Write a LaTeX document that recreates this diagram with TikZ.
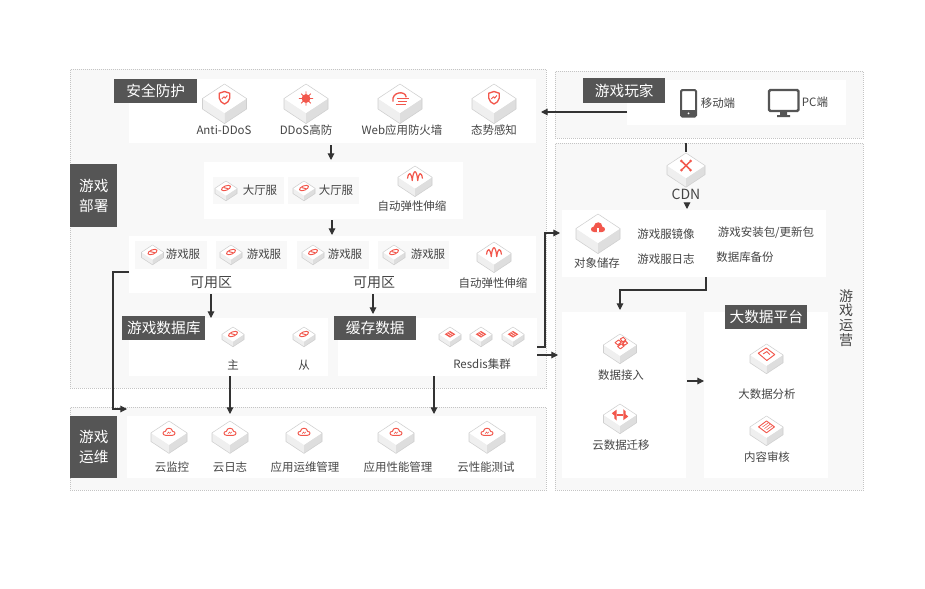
\documentclass[tikz,border=0pt]{standalone}
\usepackage{fontspec}
\setmainfont{Noto Sans CJK SC}
\usetikzlibrary{arrows.meta}

\definecolor{zonebg}{HTML}{F8F8F8}
\definecolor{zoneline}{HTML}{C4C4C4}
\definecolor{tagbg}{HTML}{555555}
\definecolor{txtc}{HTML}{454545}
\definecolor{flowc}{HTML}{333333}
\definecolor{redc}{HTML}{F2574C}
\definecolor{cubeL}{HTML}{EFEFEF}
\definecolor{cubeR}{HTML}{DEDEDE}
\definecolor{cubeE}{HTML}{CFCFCF}

% cube: x, top y, half width, glyph
\newcommand{\cube}[4]{%
  \begin{scope}[shift={(#1,#2+0.66*#3)},scale=#3]
    \fill[fill=cubeL] (-1,0) -- (0,.66) -- (0,1.14) -- (-1,.48) -- cycle;
    \fill[fill=cubeR] (1,0) -- (0,.66) -- (0,1.14) -- (1,.48) -- cycle;
    \fill[fill=white] (0,-.66) -- (1,0) -- (0,.66) -- (-1,0) -- cycle;
    \draw[draw=cubeE,line width=.4pt,line join=round] (0,-.66) -- (1,0) -- (1,.48) -- (0,1.14) -- (-1,.48) -- (-1,0) -- cycle;
    #4
  \end{scope}}

% glyphs on the top face
\newcommand{\gshield}{\draw[glyph,line width=1pt] (-.24,-.24) -- (0,-.32) -- (.24,-.24) -- (.24,-.02) .. controls (.24,.12) and (.1,.2) .. (0,.25) .. controls (-.1,.2) and (-.24,.12) .. (-.24,-.02) -- cycle; \draw[glyph] (-.12,.02) -- (-.02,-.08) -- (.03,-.02) -- (.13,-.14);}
\newcommand{\gsun}{\fill[redc] (0,0) circle (.2); \draw[glyph] (-.32,0) -- (.32,0) (0,-.32) -- (0,.32) (-.22,-.22) -- (.22,.22) (-.22,.22) -- (.22,-.22);}
\newcommand{\gweb}{\draw[glyph,line width=1pt] (-.32,.14) .. controls (-.4,-.32) and (.26,-.38) .. (.28,-.06); \draw[glyph] (-.14,.02) -- (.4,.02) (-.08,.14) -- (.32,.14) (-.16,.26) -- (.26,.26);}
\newcommand{\gauto}{\draw[glyph,line width=.9pt] (-.44,.08) .. controls (-.38,-.36) and (-.22,-.3) .. (-.16,.2) .. controls (-.1,-.5) and (.1,-.5) .. (.16,.2) .. controls (.22,-.3) and (.38,-.36) .. (.44,.08);}
\newcommand{\glink}{\draw[glyph] (0,-.02) ellipse [x radius=.44,y radius=.2,rotate=22]; \draw[glyph] (-.2,-.06) -- (.2,.04);}
\newcommand{\gcloud}{\draw[glyph] (-.18,.14) .. controls (-.38,.14) and (-.38,-.1) .. (-.2,-.08) .. controls (-.18,-.32) and (.18,-.32) .. (.2,-.08) .. controls (.38,-.1) and (.38,.14) .. (.18,.14) -- cycle; \draw[glyph,line width=.4pt] (-.1,.05) -- (-.03,-.05) -- (.03,.03) -- (.1,-.06);}
\newcommand{\gcloudfill}{\fill[redc] (-.18,.16) .. controls (-.36,.16) and (-.36,-.08) .. (-.2,-.08) .. controls (-.16,-.36) and (.2,-.34) .. (.2,-.08) .. controls (.36,-.08) and (.36,.16) .. (.18,.16) -- cycle; \fill[white] (-.04,.16) rectangle (.05,-.02);}
\newcommand{\gcross}{\draw[redc,line width=1.1pt] (-.2,-.2) -- (.2,.2) (-.2,.2) -- (.2,-.2); \fill[redc] (-.24,-.24) circle (.08) (.24,.24) circle (.08) (-.24,.24) circle (.08) (.24,-.24) circle (.08);}
\newcommand{\gserver}{\fill[redc] (0,-.3) -- (.48,0) -- (0,.3) -- (-.48,0) -- cycle; \draw[white,line width=.4pt] (-.24,-.05) -- (.12,.18) (-.12,-.18) -- (.24,.05);}
\newcommand{\gdata}{\draw[glyph] (-.3,-.14) -- (-.08,-.3) -- (.08,-.16) -- (-.14,0) -- cycle (.02,-.36) -- (.2,-.46) -- (.36,-.3) -- (.16,-.18) -- cycle (-.14,.1) -- (.08,-.06) -- (.24,.08) -- (.02,.24) -- cycle (.16,-.1) -- (.34,-.22) -- (.46,-.1) -- (.28,.02) -- cycle;}
\newcommand{\gmove}{\fill[redc] (-.5,-.1) -- (-.2,-.32) -- (-.2,.34) -- (-.34,.22) -- (-.34,.04) -- cycle; \fill[redc] (.5,.1) -- (.2,.32) -- (.2,-.34) -- (.34,-.22) -- (.34,-.04) -- cycle; \draw[redc,line width=1.1pt] (-.2,.02) -- (.2,.02);}
\newcommand{\gchart}{\draw[glyph] (-.5,-.1) -- (-.02,-.42) -- (.5,-.02) -- (.02,.34) -- cycle; \draw[glyph] (-.2,-.06) -- (.02,-.2) -- (.2,-.02);}
\newcommand{\gaudit}{\draw[glyph] (-.48,0) -- (0,-.36) -- (.48,0) -- (0,.36) -- cycle; \draw[glyph,line width=.4pt] (-.24,0) -- (.1,-.24) (-.12,.1) -- (.22,-.16) (0,.18) -- (.34,-.06);}

\begin{document}
\begin{tikzpicture}[x=0.75pt,y=-0.75pt,
    zone/.style={draw=zoneline,densely dotted,line width=.5pt,fill=zonebg,inner sep=0pt},
    panel/.style={fill=white,inner sep=0pt},
    srvbox/.style={fill=zonebg,inner sep=0pt},
    tag/.style={fill=tagbg,text=white,inner sep=0pt,align=center,font=\fontsize{11}{15}\selectfont},
    size/.style 2 args={minimum width=#1*0.75pt,minimum height=#2*0.75pt},
    lbl/.style={text=txtc,inner sep=0pt,font=\fontsize{8.6}{11}\selectfont},
    lblbig/.style={text=txtc,inner sep=0pt,font=\fontsize{10.5}{13}\selectfont},
    glyph/.style={draw=redc,line width=.7pt,line join=round},
    flow/.style={draw=flowc,line width=.8pt,-{Triangle[length=5pt,width=5pt]}},
    plain/.style={draw=flowc,line width=.8pt}]

    \useasboundingbox (0,0) rectangle (925,589);
    \fill[white] (0,0) rectangle (925,589);

    % zones
    \node[zone,size={476}{319},anchor=north west] (deploy) at (70,69) {};
    \node[zone,size={476}{83},anchor=north west] (opszone) at (70,407) {};
    \node[zone,size={308}{67},anchor=north west] (players) at (555,71) {};
    \node[zone,size={308}{347},anchor=north west] (operate) at (555,143) {};

    % panels
    \node[panel,size={407}{64},anchor=north west] (secpanel) at (129,79) {};
    \node[panel,size={259}{57},anchor=north west] (lobbypanel) at (204,162) {};
    \node[panel,size={407}{57},anchor=north west] (gamepanel) at (129,236) {};
    \node[panel,size={199}{58},anchor=north west] (dbpanel) at (129,318) {};
    \node[panel,size={199}{58},anchor=north west] (cachepanel) at (338,318) {};
    \node[panel,size={409}{62},anchor=north west] (opspanel) at (127,416) {};
    \node[panel,size={219}{45},anchor=north west] (playerpanel) at (627,80) {};
    \node[panel,size={264}{67},anchor=north west] (storepanel) at (562,210) {};
    \node[panel,size={124}{166},anchor=north west] (datapanel) at (562,312) {};
    \node[panel,size={124}{166},anchor=north west] (bigpanel) at (704,312) {};

    \node[srvbox,size={71}{27},anchor=north west] (lobbybox1) at (213,177) {};
    \node[srvbox,size={71}{27},anchor=north west] (lobbybox2) at (288,177) {};
    \node[srvbox,size={72}{28},anchor=north west] (gamebox1) at (135,241) {};
    \node[srvbox,size={71}{28},anchor=north west] (gamebox2) at (216,241) {};
    \node[srvbox,size={72}{28},anchor=north west] (gamebox3) at (297,241) {};
    \node[srvbox,size={71}{28},anchor=north west] (gamebox4) at (378,241) {};

    % tags
    \node[tag,size={83}{24},anchor=north west] (sectag) at (114,79) {安全防护};
    \node[tag,size={47}{63},anchor=north west] (deploytag) at (70,164) {游戏\\部署};
    \node[tag,size={47}{62},anchor=north west] (opstag) at (70,416) {游戏\\运维};
    \node[tag,size={83}{24},anchor=north west] (dbtag) at (122,316) {游戏数据库};
    \node[tag,size={82}{24},anchor=north west] (cachetag) at (334,316) {缓存数据};
    \node[tag,size={82}{25},anchor=north west] (playertag) at (583,78) {游戏玩家};
    \node[tag,size={82}{24},anchor=north west] (bigtag) at (725,305) {大数据平台};

    % security
    \cube{224.5}{84}{22}{\gshield}
    \cube{306}{84}{22}{\gsun}
    \cube{400}{84}{22}{\gweb}
    \cube{494}{84}{22}{\gshield}
    \node[lbl] (antiddos) at (224,130) {Anti-DDoS};
    \node[lbl] (ddos) at (306,130) {DDoS高防};
    \node[lbl] (webfw) at (402,130) {Web应用防火墙};
    \node[lbl] (aware) at (494,130) {态势感知};

    % lobby
    \cube{226}{181}{11}{\glink}
    \cube{304}{181}{11}{\glink}
    \cube{415}{166}{17}{\gauto}
    \node[lbl] (lobby1) at (260,190) {大厅服};
    \node[lbl] (lobby2) at (336,190) {大厅服};
    \node[lbl] (auto1) at (412,206) {自动弹性伸缩};

    % game servers
    \cube{152.5}{245}{11}{\glink}
    \cube{231}{245}{11}{\glink}
    \cube{313}{245}{11}{\glink}
    \cube{394}{245}{11}{\glink}
    \cube{494}{242}{17}{\gauto}
    \node[lbl] (game1) at (183,254) {游戏服};
    \node[lbl] (game2) at (264,254) {游戏服};
    \node[lbl] (game3) at (345,254) {游戏服};
    \node[lbl] (game4) at (428,254) {游戏服};
    \node[lblbig] (zone1) at (211,283) {可用区};
    \node[lblbig] (zone2) at (374,283) {可用区};
    \node[lbl] (auto2) at (493,283) {自动弹性伸缩};

    % database and cache
    \cube{233}{327}{11}{\glink}
    \cube{304}{327}{11}{\glink}
    \cube{450}{327}{11}{\gserver}
    \cube{481}{327}{11}{\gserver}
    \cube{513}{327}{11}{\gserver}
    \node[lbl] (master) at (233,365) {主};
    \node[lbl] (slave) at (304,365) {从};
    \node[lbl] (redis) at (482,364) {Resdis集群};

    % ops
    \cube{169}{421}{18}{\gcloud}
    \cube{230}{421}{18}{\gcloud}
    \cube{304}{421}{18}{\gcloud}
    \cube{396}{421}{18}{\gcloud}
    \cube{487}{421}{18}{\gcloud}
    \node[lbl] (monitor) at (172,467) {云监控};
    \node[lbl] (logs) at (230,467) {云日志};
    \node[lbl] (appops) at (305,467) {应用运维管理};
    \node[lbl] (appperf) at (398,467) {应用性能管理};
    \node[lbl] (loadtest) at (486,467) {云性能测试};

    % players
    \draw[draw=tagbg,line width=1.5pt,rounded corners=1pt] (681,90) rectangle (696,116.5);
    \fill[tagbg] (681,110) rectangle (696,116.5);
    \fill[white] (688.5,113.3) circle (1);
    \draw[draw=tagbg,line width=1.8pt,rounded corners=1pt] (769,90) rectangle (798.5,111);
    \fill[tagbg] (780,111) rectangle (787,115) (777,115) rectangle (790,117);
    \node[lbl] (mobile) at (718,103) {移动端};
    \node[lbl] (pc) at (815,102) {PC端};

    % cdn and storage
    \cube{686}{153}{19}{\gcross}
    \node[lblbig] (cdn) at (686,194) {CDN};
    \cube{598}{214}{22}{\gcloudfill}
    \node[lbl] (objstore) at (597,263) {对象储存};
    \node[lbl] (img) at (666,234) {游戏服镜像};
    \node[lbl] (srvlog) at (666,259) {游戏服日志};
    \node[lbl] (pkg) at (766,233) {游戏安装包/更新包};
    \node[lbl] (backup) at (745,257) {数据库备份};

    % data
    \cube{620}{334}{16.5}{\gdata}
    \cube{620}{404}{16.5}{\gmove}
    \cube{766.5}{344}{16.5}{\gchart}
    \cube{766.5}{416}{16.5}{\gaudit}
    \node[lbl] (ingest) at (621,375) {数据接入};
    \node[lbl] (migrate) at (621,445) {云数据迁移};
    \node[lbl] (analysis) at (767,394) {大数据分析};
    \node[lbl] (audit) at (767,457) {内容审核};
    \node[lblbig,align=center,font=\fontsize{10.5}{11}\selectfont] (opstitle) at (846,318) {游\\戏\\运\\营};

    % bends and free ends
    \coordinate (c1) at (627,112);
    \coordinate (c2) at (541,112);
    \coordinate (c3) at (129,272);
    \coordinate (c4) at (113,272);
    \coordinate (c5) at (113,409);
    \coordinate (c6) at (127,409);
    \coordinate (c7) at (537,347);
    \coordinate (c8) at (545,347);
    \coordinate (c9) at (545,233);
    \coordinate (c10) at (560,233);
    \coordinate (c11) at (537,355);
    \coordinate (c12) at (558,355);
    \coordinate (c13) at (706,277);
    \coordinate (c14) at (706,290);
    \coordinate (c15) at (620,290);
    \coordinate (c16) at (620,310);
    \coordinate (c17) at (331,145);
    \coordinate (c18) at (331,160);
    \coordinate (c19) at (332,220);
    \coordinate (c20) at (332,235);
    \coordinate (c21) at (211,294);
    \coordinate (c22) at (211,318);
    \coordinate (c23) at (373,294);
    \coordinate (c24) at (373,314);
    \coordinate (c25) at (434,376);
    \coordinate (c26) at (434,414);
    \coordinate (c27) at (230,376);
    \coordinate (c28) at (230,414);
    \coordinate (c29) at (686,143);
    \coordinate (c30) at (686,152);
    \coordinate (c31) at (687,209);
    \coordinate (c32) at (687,204);
    \coordinate (c33) at (687,381);
    \coordinate (c34) at (704,381);

    % connectors
    \draw[flow] (c1) -- (c2);
    \draw[flow] (c17) -- (c18);
    \draw[flow] (c19) -- (c20);
    \draw[flow] (c21) -- (c22);
    \draw[flow] (c23) -- (c24);
    \draw[flow] (c3) -- (c4) -- (c5) -- (c6);
    \draw[flow] (c27) -- (c28);
    \draw[flow] (c25) -- (c26);
    \draw[flow] (c7) -- (c8) -- (c9) -- (c10);
    \draw[flow] (c11) -- (c12);
    \draw[plain] (c29) -- (c30);
    \draw[flow] (c32) -- (c31);
    \draw[flow] (c13) -- (c14) -- (c15) -- (c16);
    \draw[flow] (c33) -- (c34);
\end{tikzpicture}
\end{document}
